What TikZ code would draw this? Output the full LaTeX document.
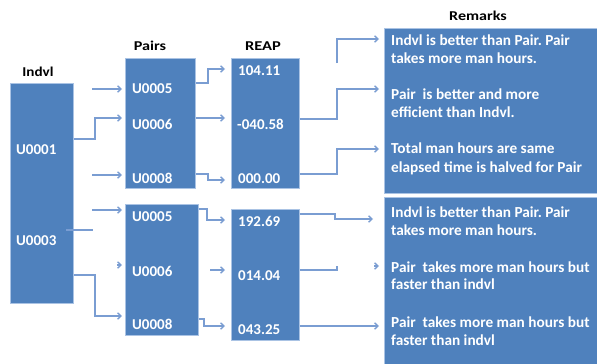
\documentclass[tikz,border=0pt]{standalone}
\usepackage{fontspec}
\setmainfont{Carlito}
\usetikzlibrary{arrows.meta}
\definecolor{boxblue}{RGB}{79,129,189}
\definecolor{linkblue}{RGB}{122,157,210}
\definecolor{edgeblue}{RGB}{170,195,228}
\frenchspacing
\begin{document}
\begin{tikzpicture}[x=1pt,y=-1pt,
  panel/.style={fill=boxblue,draw=edgeblue,line width=0.8pt,inner sep=0pt,anchor=north west},
  lbl/.style={anchor=base west,inner sep=0pt,text=white,font=\fontsize{15}{18}\selectfont\bfseries},
  rem/.style={anchor=base west,inner sep=0pt,text=white,font=\fontsize{15.3}{18}\selectfont\bfseries},
  head/.style={anchor=base,inner sep=0pt,font=\fontsize{13.5}{16}\selectfont\bfseries},
  link/.style={draw=linkblue,line width=1.3pt},
  arr/.style={link,-{Straight Barb[length=3.5pt,width=6.5pt]}}]
\clip (0,0) rectangle (597,364);
\fill[white] (0,0) rectangle (597,364);

% panels
\node[panel,minimum width=63pt,minimum height=220pt] (indvl) at (10,83) {};
\node[panel,minimum width=70pt,minimum height=130pt] (pairs1) at (125,58) {};
\node[panel,minimum width=73pt,minimum height=131pt] (pairs2) at (125,204) {};
\node[panel,minimum width=68pt,minimum height=130pt] (reap1) at (231,58) {};
\node[panel,minimum width=68pt,minimum height=131pt] (reap2) at (231,209) {};
\node[panel,minimum width=218pt,minimum height=165pt] (rem1) at (384,28) {};
\node[panel,minimum width=218pt,minimum height=170pt] (rem2) at (384,197) {};

% headings
\node[head] (hindvl) at (38,76) {\scalebox{1.12}[1]{Indvl}};
\node[head] (hpairs) at (150,50) {\scalebox{1.2}[1]{Pairs}};
\node[head] (hreap) at (263,50) {\scalebox{1.22}[1]{REAP}};
\node[head] (hrem) at (478,20) {\scalebox{1.19}[1]{Remarks}};

% labels
\node[lbl] (u1) at (16,154) {U0001};
\node[lbl] (u3) at (16,245) {U0003};
\node[lbl] (p15) at (132,93) {U0005};
\node[lbl] (p16) at (132,129) {U0006};
\node[lbl] (p18) at (132,183) {U0008};
\node[lbl] (p25) at (132,221) {U0005};
\node[lbl] (p26) at (132,276) {U0006};
\node[lbl] (p28) at (132,329) {U0008};
\node[lbl] (r11) at (238,75) {104.11};
\node[lbl] (r12) at (237,129) {-040.58};
\node[lbl] (r13) at (238,183) {000.00};
\node[lbl] (r21) at (238,226) {192.69};
\node[lbl] (r22) at (238,280) {014.04};
\node[lbl] (r23) at (238,334) {043.25};

% remarks
\node[rem] (m1a) at (391,45) {Indvl is better than Pair. Pair};
\node[rem] (m1b) at (391,63) {takes more man hours.};
\node[rem] (m2a) at (391,99) {Pair\ \ is better and more};
\node[rem] (m2b) at (391,117) {efficient than Indvl.};
\node[rem] (m3a) at (391,153) {Total man hours are same};
\node[rem] (m3b) at (391,172) {elapsed time is halved for Pair};
\node[rem] (n1a) at (391,217) {Indvl is better than Pair. Pair};
\node[rem] (n1b) at (391,235) {takes more man hours.};
\node[rem] (n2a) at (391,272) {Pair\ \ takes more man hours but};
\node[rem] (n2b) at (391,289) {faster than indvl};
\node[rem] (n3a) at (391,327) {Pair\ \ takes more man hours but};
\node[rem] (n3b) at (391,345) {faster than indvl};

% free ends
\coordinate (a1) at (92,89);
\coordinate (a3) at (92,175);
\coordinate (a4) at (92,210);
\coordinate (a5s) at (66,230);
\coordinate (a5e) at (93,230);
\coordinate (a6) at (117,265);
\coordinate (b5) at (210,270);
\coordinate (c1) at (337,63);
\coordinate (c5) at (374,266);

% Indvl -> Pairs
\draw[arr,shorten >=3pt] (a1) -- (pairs1.west |- a1);
\draw[arr,shorten >=3pt] (indvl.east |- 0,139) -- (95,139) -- (95,118) -- (pairs1.west |- 0,118);
\draw[arr,shorten >=3pt] (a3) -- (pairs1.west |- a3);
\draw[arr,shorten >=3pt] (a4) -- (pairs2.west |- a4);
\draw[link] (a5s) -- (a5e);
\draw[arr,shorten >=3pt] (a6) -- (pairs2.west |- a6);
\draw[arr,shorten >=3pt] (indvl.east |- 0,275) -- (95,275) -- (95,316) -- (pairs2.west |- 0,316);

% Pairs -> REAP
\draw[arr,shorten >=6pt] (pairs1.east |- 0,83) -- (208,83) -- (208,69) -- (reap1.west |- 0,69);
\draw[arr,shorten >=6pt] (pairs1.east |- 0,118) -- (reap1.west |- 0,118);
\draw[arr,shorten >=6pt] (pairs1.east |- 0,174) -- (208,174) -- (208,180) -- (reap1.west |- 0,180);
\draw[arr,shorten >=6pt] (pairs2.east |- 0,209) -- (207,209) -- (207,220) -- (reap2.west |- 0,220);
\draw[arr,shorten >=6pt] (b5) -- (reap2.west |- b5);
\draw[arr,shorten >=6pt] (pairs2.east |- 0,319) -- (204,319) -- (204,326) -- (reap2.west |- 0,326);

% REAP -> Remarks
\draw[arr,shorten >=5pt] (c1) -- (337,39) -- (rem1.west |- 0,39);
\draw[arr,shorten >=5pt] (reap1.east |- 0,119) -- (337,119) -- (337,89) -- (rem1.west |- 0,89);
\draw[arr,shorten >=5pt] (reap1.east |- 0,174) -- (337,174) -- (337,149) -- (rem1.west |- 0,149);
\draw[arr,shorten >=11pt] (reap2.east |- 0,214) -- (335,214) -- (335,219) -- (rem2.west |- 0,219);
\draw[link] (reap2.east |- 0,270) -- (337,270) -- (337,266);
\draw[arr,shorten >=5pt] (c5) -- (rem2.west |- c5);
\draw[arr,shorten >=5pt] (reap2.east |- 0,326) -- (rem2.west |- 0,326);
\end{tikzpicture}
\end{document}
